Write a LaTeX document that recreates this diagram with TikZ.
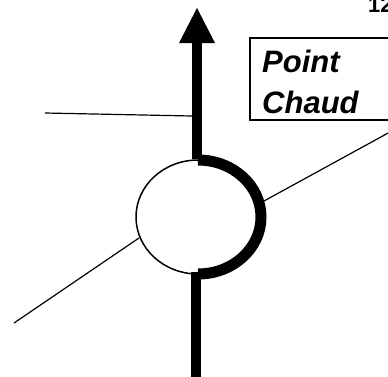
\documentclass[tikz,border=0pt]{standalone}
\usepackage{fontspec}
\setmainfont{Liberation Sans}
\begin{document}
\begin{tikzpicture}[x=1pt,y=-1pt,
  thinline/.style={line width=1.2pt},
  thickline/.style={line width=10pt},
  lbl/.style={inner sep=0pt,anchor=base west,font=\fontsize{31}{41}\selectfont\bfseries\itshape}]
\useasboundingbox (0,0) rectangle (388,376);
% coordinates
\coordinate (c) at (198,217);
\coordinate (top) at (197,159);
\coordinate (bot) at (196,272);
\coordinate (tip) at (197,8);
\coordinate (base) at (197,42);
\coordinate (bend) at (196,380);
\coordinate (hl) at (45,113);
\coordinate (hr) at (192,116);
\coordinate (dl1) at (14,323);
\coordinate (dl2) at (139,238);
\coordinate (dr1) at (264,201);
\coordinate (dr2) at (390,132);
% thin lines
\draw[thinline] (hl) -- (hr);
\draw[thinline] (dl1) -- (dl2);
\draw[thinline] (dr1) -- (dr2);
% circle
\draw[line width=1.5pt] (c) ellipse [x radius=62, y radius=57];
\draw[line width=11pt] (198,160) arc[start angle=-90,end angle=90,x radius=63,y radius=57];
% shafts
\draw[thickline] (top) -- (base);
\draw[thickline] (bot) -- (bend);
% arrowhead
\fill (tip) -- (215,43) -- (179,43) -- cycle;
% box
\draw[line width=1.5pt] (400,38) -- (250,38) -- (250,120) -- (400,120);
\node[lbl] (p) at (262,72) {Point};
\node[lbl] (ch) at (262,113) {Chaud};
\node[inner sep=0pt,anchor=base west,font=\fontsize{22}{26}\selectfont\bfseries] (n) at (368,12) {12};
\end{tikzpicture}
\end{document}
